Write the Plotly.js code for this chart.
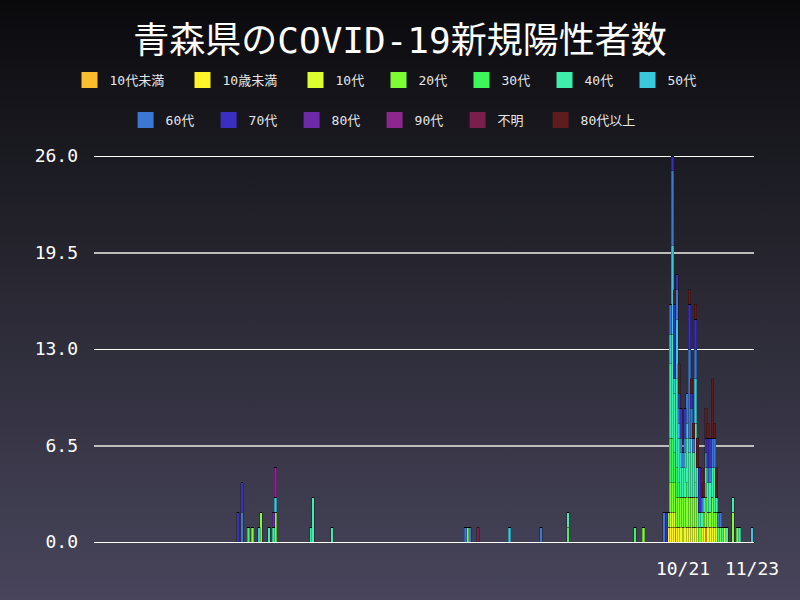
<!DOCTYPE html>
<html>
<head>
<meta charset="utf-8">
<script src="https://cdn.plot.ly/plotly-3.0.1.min.js"></script>
<style>
  html, body { margin: 0; padding: 0; }
  body { width: 800px; height: 600px; background: linear-gradient(to bottom, #0a0a0d 0%, #2a2934 50%, #48455c 100%); }
  #chart { width: 800px; height: 600px; }
</style>
</head>
<body>
<div id="chart"></div>
<script>
const dates = [
    "2020-03-22", "2020-03-24", "2020-03-27", "2020-03-29", "2020-04-01", "2020-04-02", "2020-04-06", "2020-04-08", "2020-04-09", "2020-04-26",
    "2020-04-27", "2020-05-06", "2020-07-09", "2020-07-10", "2020-07-11", "2020-07-15", "2020-07-30", "2020-08-14", "2020-08-27", "2020-09-28",
    "2020-10-02", "2020-10-12", "2020-10-13", "2020-10-14", "2020-10-15", "2020-10-16", "2020-10-17", "2020-10-18", "2020-10-19", "2020-10-20",
    "2020-10-21", "2020-10-22", "2020-10-23", "2020-10-24", "2020-10-25", "2020-10-26", "2020-10-27", "2020-10-28", "2020-10-29", "2020-10-30",
    "2020-10-31", "2020-11-01", "2020-11-02", "2020-11-03", "2020-11-04", "2020-11-05", "2020-11-06", "2020-11-07", "2020-11-08", "2020-11-09",
    "2020-11-10", "2020-11-11", "2020-11-14", "2020-11-16", "2020-11-17", "2020-11-23"
];

// daily counts per age group, same order as dates
const under10a  = [0,0,0,0,0,0,0,0,0,0, 0,0,0,0,0,0,0,0,0,0, 0,0,0,0,0,0,0,0,0,0, 0,0,0,0,0,0,0,0,0,0, 0,1,0,0,0,0,0,0,0,0, 0,0,0,0,0,0];
const under10b  = [0,0,0,0,0,0,0,0,0,0, 0,0,0,0,0,0,0,0,0,0, 0,0,0,1,1,1,1,1,1,0, 1,0,1,1,0,1,1,0,0,0, 1,0,0,1,0,1,0,0,0,0, 0,0,0,0,0,0];
const teens     = [0,0,0,0,0,0,0,0,0,0, 0,0,0,0,0,0,0,0,0,0, 0,0,0,0,1,1,1,0,0,1, 0,1,0,0,1,0,0,1,0,1, 0,0,1,0,1,0,1,0,0,0, 1,0,0,0,0,0];
const twenties  = [0,0,0,1,0,2,0,0,2,0, 0,0,0,1,0,0,0,0,0,0, 1,0,0,1,2,2,2,2,2,2, 2,2,2,2,2,2,2,2,1,0, 1,2,1,1,2,1,1,0,1,0, 0,0,2,1,0,0];
const thirties  = [0,0,1,0,0,0,0,0,0,0, 0,0,0,0,0,0,0,0,1,1, 0,0,0,0,3,3,2,2,1,0, 0,0,1,0,0,0,1,0,0,0, 0,0,0,0,0,0,0,0,0,0, 0,0,0,0,0,0];
const forties   = [0,0,0,0,0,0,1,1,0,1, 3,1,0,0,0,0,0,0,1,0, 0,0,0,0,5,7,4,6,3,2, 2,2,3,3,4,3,4,2,1,1, 1,2,2,2,2,3,1,1,0,1, 0,1,1,0,1,0];
const fifties   = [0,0,0,0,1,0,0,0,1,0, 0,0,0,0,0,0,1,0,0,0, 0,0,0,0,2,6,1,4,1,1, 0,1,1,1,0,0,3,0,0,0, 0,0,0,0,0,0,0,0,0,0, 0,0,0,0,0,1];
const sixties   = [0,2,0,0,0,0,0,0,0,0, 0,0,1,0,1,0,0,1,0,0, 0,2,0,0,2,5,0,2,1,1, 1,1,2,6,2,1,2,0,0,1, 0,1,1,1,2,2,0,1,1,0, 0,0,0,0,0,0];
const seventies = [2,2,0,0,0,0,0,0,0,0, 0,0,0,0,0,0,0,0,0,0, 0,0,2,0,0,1,5,1,1,2, 0,2,0,3,1,0,2,0,3,0, 0,1,2,2,0,0,0,0,0,0, 0,0,0,0,0,0];
const eighties  = [0,0,0,0,0,0,0,1,0,0, 0,0,0,0,0,0,0,0,0,0, 0,0,0,0,0,0,0,0,0,0, 0,0,0,0,0,0,0,0,0,0, 0,0,0,0,0,0,0,0,0,0, 0,0,0,0,0,0];
const nineties  = [0,0,0,0,0,0,0,0,2,0, 0,0,0,0,0,0,0,0,0,0, 0,0,0,0,0,0,0,0,0,0, 0,0,0,0,0,0,0,0,0,0, 0,0,0,0,0,0,0,0,0,0, 0,0,0,0,0,0];
const unknown   = [0,0,0,0,0,0,0,0,0,0, 0,0,0,0,0,1,0,0,0,0, 0,0,0,0,0,0,0,0,0,0, 0,0,0,0,0,0,0,0,0,0, 0,0,0,0,0,0,0,0,0,0, 0,0,0,0,0,0];
const over80    = [0,0,0,0,0,0,0,0,0,0, 0,0,0,0,0,0,0,0,0,0, 0,0,0,0,0,0,1,0,2,0, 0,0,0,1,1,1,1,2,0,2, 1,2,1,0,4,1,2,0,0,0, 0,0,0,0,0,0];

const groupNames = ["10代未満", "10歳未満", "10代", "20代", "30代", "40代", "50代",
                    "60代", "70代", "80代", "90代", "不明", "80代以上"];
const groupColors = ["#fbbd2b", "#fff42a", "#dbfe2c", "#7dfd33", "#3df65a", "#3cf0ab", "#3ac9dc",
                     "#3b78d3", "#3a2fbf", "#6c2aa9", "#8d278e", "#7a1e4b", "#5f1c1d"];
const groupSeries = [under10a, under10b, teens, twenties, thirties, forties, fifties,
                     sixties, seventies, eighties, nineties, unknown, over80];

const xTicks = ["2020-10-21", "2020-11-23"];
const xTickText = ["10/21", "11/23"];
const yTicks = [0, 6.5, 13, 19.5, 26];

const MONO = "DejaVu Sans Mono, Noto Sans CJK JP, monospace";
const DAY = 86400000;
const Y_RANGE = [0, 26.07];  // a hair above 26 so the top gridline is not clipped

const barTraces = groupSeries.map((vals, i) => ({
    type: "bar",
    x: dates,
    y: vals,
    name: groupNames[i],
    width: dates.map(() => 1.2 * DAY),
    marker: {color: groupColors[i], line: {width: 0.5, color: "rgba(0,0,0,0.5)"}},
    showlegend: false,
    hoverinfo: "x+y+name"
}));

// legend entries drawn as squares (bar legend icons are too small)
const legendTraces = groupNames.map((name, i) => ({
    type: "scatter",
    mode: "markers",
    x: [null],
    y: [null],
    yaxis: "y2",
    name: name,
    legend: i < 7 ? "legend" : "legend2",
    legendwidth: name.length > 3 ? 68 : 38,
    marker: {symbol: "square", size: 16, color: groupColors[i]},
    hoverinfo: "skip"
}));

const legendStyle = {
    orientation: "h",
    traceorder: "normal",
    xref: "container",
    yref: "container",
    xanchor: "center",
    yanchor: "middle",
    bgcolor: "rgba(0,0,0,0)",
    font: {family: MONO, size: 13, color: "#e6e6e6"},
    itemsizing: "trace"
};

const layout = {
    width: 800,
    height: 600,
    paper_bgcolor: "rgba(0,0,0,0)",
    plot_bgcolor: "rgba(0,0,0,0)",
    margin: {l: 94, r: 46, t: 155, b: 58},
    barmode: "stack",
    bargap: 0,
    title: {
        text: "青森県のCOVID-19新規陽性者数",
        font: {family: MONO, size: 36, color: "#ffffff"},
        x: 0.5, xanchor: "center",
        y: 1 - 40 / 600, yanchor: "middle", yref: "container"
    },
    xaxis: {
        type: "date",
        range: ["2020-01-13 04:00", "2020-11-23 23:00"],
        tickvals: xTicks,
        ticktext: xTickText,
        ticks: "",
        showgrid: false,
        zeroline: false,
        showline: false,
        ticklabelstandoff: 14,
        tickfont: {family: MONO, size: 18, color: "#ffffff"}
    },
    yaxis: {
        range: Y_RANGE,
        tickvals: yTicks,
        tickformat: ".1f",
        ticks: "",
        showgrid: false,
        zeroline: true,
        zerolinecolor: "#ffffff",
        zerolinewidth: 1,
        ticklabelstandoff: 15,
        tickfont: {family: MONO, size: 18, color: "#ffffff"}
    },
    yaxis2: {
        overlaying: "y",
        range: Y_RANGE,
        tickvals: [13, 26],
        showticklabels: false,
        ticks: "",
        showgrid: true,
        gridcolor: "#ffffff",
        gridwidth: 1,
        zeroline: false,
        minor: {tickvals: [6.5, 19.5], showgrid: true, gridcolor: "#bdbdbd", gridwidth: 2, ticks: ""}
    },
    legend: Object.assign({}, legendStyle, {x: 0.4875, y: 1 - 80 / 600}),
    legend2: Object.assign({}, legendStyle, {x: 0.487, y: 1 - 120 / 600})
};

Plotly.newPlot("chart", barTraces.concat(legendTraces), layout, {displayModeBar: false, staticPlot: true});
</script>
</body>
</html>
